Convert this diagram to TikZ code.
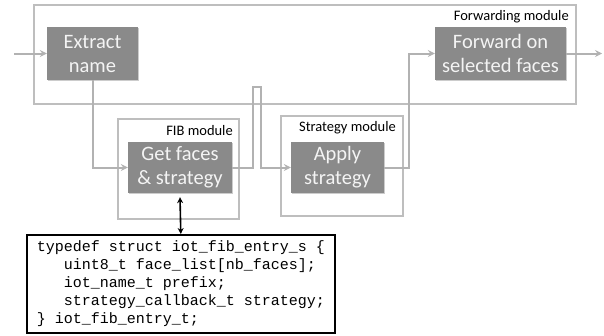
\documentclass[tikz,border=0pt]{standalone}
\usepackage{fontspec}
\setmainfont{Carlito}
\newfontfamily\codefont{Liberation Mono}
\usetikzlibrary{arrows.meta,shadows,calc}
\definecolor{boxfill}{HTML}{8A8A8A}
\definecolor{boxtext}{HTML}{F4F4F4}
\definecolor{linegray}{HTML}{B2B2B2}
\definecolor{modgray}{HTML}{BEBEBE}
\tikzset{
  procbox/.style={fill=boxfill, text=boxtext, align=center, inner sep=0pt,
    font=\fontsize{20.5}{24}\selectfont,
    drop shadow={shadow xshift=1.2pt, shadow yshift=-1.2pt, fill=black!40, opacity=0.5}},
  modbox/.style={draw=modgray, line width=1.6pt, fill=none},
  modlabel/.style={anchor=east, inner sep=0pt, font=\fontsize{14.5}{16}\selectfont},
  conn/.style={draw=linegray, line width=2pt, -{Stealth[length=7pt,width=7pt,inset=2.5pt]}},
  codebox/.style={draw=black, line width=1.6pt, align=left, inner xsep=6pt,
    font=\codefont\fontsize{15}{18}\selectfont},
}
\begin{document}
\begin{tikzpicture}[x=1pt,y=-1pt]
\useasboundingbox (0,0) rectangle (604,335);
% module frames
\node[modbox, minimum width=542pt, minimum height=99pt, anchor=north west, inner sep=0pt] (fwdmod) at (33,4) {};
\node[modbox, minimum width=121pt, minimum height=100pt, anchor=north west, inner sep=0pt] (fibmod) at (117,118) {};
\node[modbox, minimum width=122pt, minimum height=100pt, anchor=north west, inner sep=0pt] (stratmod) at (280,115) {};
\node[modlabel] (fwdlab) at (569,17) {Forwarding module};
\node[modlabel] (fiblab) at (233,131) {FIB module};
\node[modlabel] (stratlab) at (396,128) {Strategy module};
% process boxes
\node[procbox, minimum width=91pt, minimum height=53pt] (extract) at (92.5,53.5) {Extract\\name};
\node[procbox, minimum width=131pt, minimum height=53pt] (forward) at (500.5,53.5) {Forward on\\selected faces};
\node[procbox, minimum width=104pt, minimum height=51pt] (getfaces) at (180,167.5) {Get faces\\\& strategy};
\node[procbox, minimum width=93pt, minimum height=51pt] (apply) at (337.5,167.5) {Apply\\strategy};
% code
\node[codebox, minimum width=308pt, minimum height=98pt, anchor=north west] (code) at (26,234)
{typedef struct iot\_fib\_entry\_s \{\\
\ \ \ uint8\_t face\_list[nb\_faces];\\
\ \ \ iot\_name\_t prefix;\\
\ \ \ strategy\_callback\_t strategy;\\
\} iot\_fib\_entry\_t;};
% coordinates
\coordinate (in) at (14,53.5);
\coordinate (out) at (602,53.5);
\coordinate (hopa) at (253,87);
\coordinate (hopb) at (261,87);
\coordinate (up) at (409,53.5);
% connectors
\draw[conn] (in) -- (extract.west);
\draw[conn] (forward.east) -- (out);
\draw[conn] (extract.south) |- (getfaces.west);
\draw[conn] (getfaces.east) -| (hopa) -- (hopb) |- (apply.west);
\draw[conn] (apply.east) -| (up) -- (forward.west);
\draw[black, line width=1.6pt, {Stealth[length=6pt,width=6pt]}-{Stealth[length=6pt,width=6pt]}] ([yshift=-4pt]getfaces.south) -- (code.north);
\end{tikzpicture}
\end{document}
